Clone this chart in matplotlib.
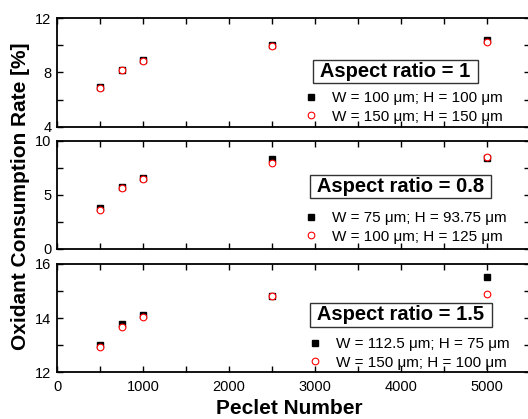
import matplotlib.pyplot as plt
from matplotlib.ticker import MultipleLocator

plt.rcParams['font.family'] = ['Liberation Sans', 'DejaVu Sans']

# Peclet numbers (same for all panels)
peclet = [500, 750, 1000, 2500, 5000]

# Aspect ratio = 1
ar1_a = [6.95, 8.2, 8.9, 10.05, 10.35]
ar1_b = [6.85, 8.15, 8.85, 9.95, 10.25]
# Aspect ratio = 0.8
ar08_a = [3.75, 5.7, 6.55, 8.3, 8.45]
ar08_b = [3.6, 5.65, 6.5, 7.9, 8.5]
# Aspect ratio = 1.5
ar15_a = [13.0, 13.78, 14.1, 14.8, 15.53]
ar15_b = [12.91, 13.65, 14.03, 14.8, 14.88]

panels = [
    dict(a=ar1_a, b=ar1_b, ylim=(4, 12), major=4, minor=2,
         title='Aspect ratio = 1',
         labels=['W = 100 μm; H = 100 μm', 'W = 150 μm; H = 150 μm'],
         tpos=(0.715, 0.509), lpos=(0.52, 0.33)),
    dict(a=ar08_a, b=ar08_b, ylim=(0, 10), major=5, minor=2.5,
         title='Aspect ratio = 0.8',
         labels=['W = 75 μm; H = 93.75 μm', 'W = 100 μm; H = 125 μm'],
         tpos=(0.726, 0.574), lpos=(0.52, 0.35)),
    dict(a=ar15_a, b=ar15_b, ylim=(12, 16), major=2, minor=1,
         title='Aspect ratio = 1.5',
         labels=['W = 112.5 μm; H = 75 μm', 'W = 150 μm; H = 100 μm'],
         tpos=(0.727, 0.528), lpos=(0.529, 0.325)),
]

fig = plt.figure(figsize=(5.28, 4.19), dpi=100)
bottoms = [0.697, 0.406, 0.112]
heights = [0.260, 0.258, 0.258]

for i, p in enumerate(panels):
    ax = fig.add_axes([0.108, bottoms[i], 0.896, heights[i]])
    ax.plot(peclet, p['a'], 's', color='black', markersize=4.6, label=p['labels'][0])
    ax.plot(peclet, p['b'], 'o', markerfacecolor='white', markeredgecolor='red',
            markeredgewidth=0.8, markersize=4.8, label=p['labels'][1])
    ax.set_xlim(0, 5500)
    ax.set_ylim(*p['ylim'])
    ax.xaxis.set_major_locator(MultipleLocator(1000))
    ax.xaxis.set_minor_locator(MultipleLocator(500))
    ax.yaxis.set_major_locator(MultipleLocator(p['major']))
    ax.yaxis.set_minor_locator(MultipleLocator(p['minor']))
    ax.tick_params(which='both', direction='in', top=True, right=True,
                   length=4, width=1, labelsize=10.5, pad=4)
    ax.tick_params(axis='x', pad=6)
    if i < 2:
        ax.tick_params(axis='x', labelbottom=False)
    for s in ax.spines.values():
        s.set_linewidth(1.3)
    ax.text(p['tpos'][0], p['tpos'][1], ' ' + p['title'] + ' ', transform=ax.transAxes,
            ha='center', va='center', fontsize=14.5, fontweight='bold',
            bbox=dict(boxstyle='square,pad=0.1', facecolor='white',
                      edgecolor='#333333', linewidth=1))
    ax.legend(loc='upper left', bbox_to_anchor=p['lpos'], frameon=False,
              fontsize=11, borderpad=0, borderaxespad=0, handlelength=1.0,
              handletextpad=0.9, labelspacing=0.3)

fig.text(0.038, 0.532, 'Oxidant Consumption Rate [%]', rotation=90,
         ha='center', va='center', fontsize=15, fontweight='bold')
fig.text(0.547, 0.024, 'Peclet Number', ha='center', va='center',
         fontsize=15, fontweight='bold')

fig.savefig('out.png', dpi=100)
